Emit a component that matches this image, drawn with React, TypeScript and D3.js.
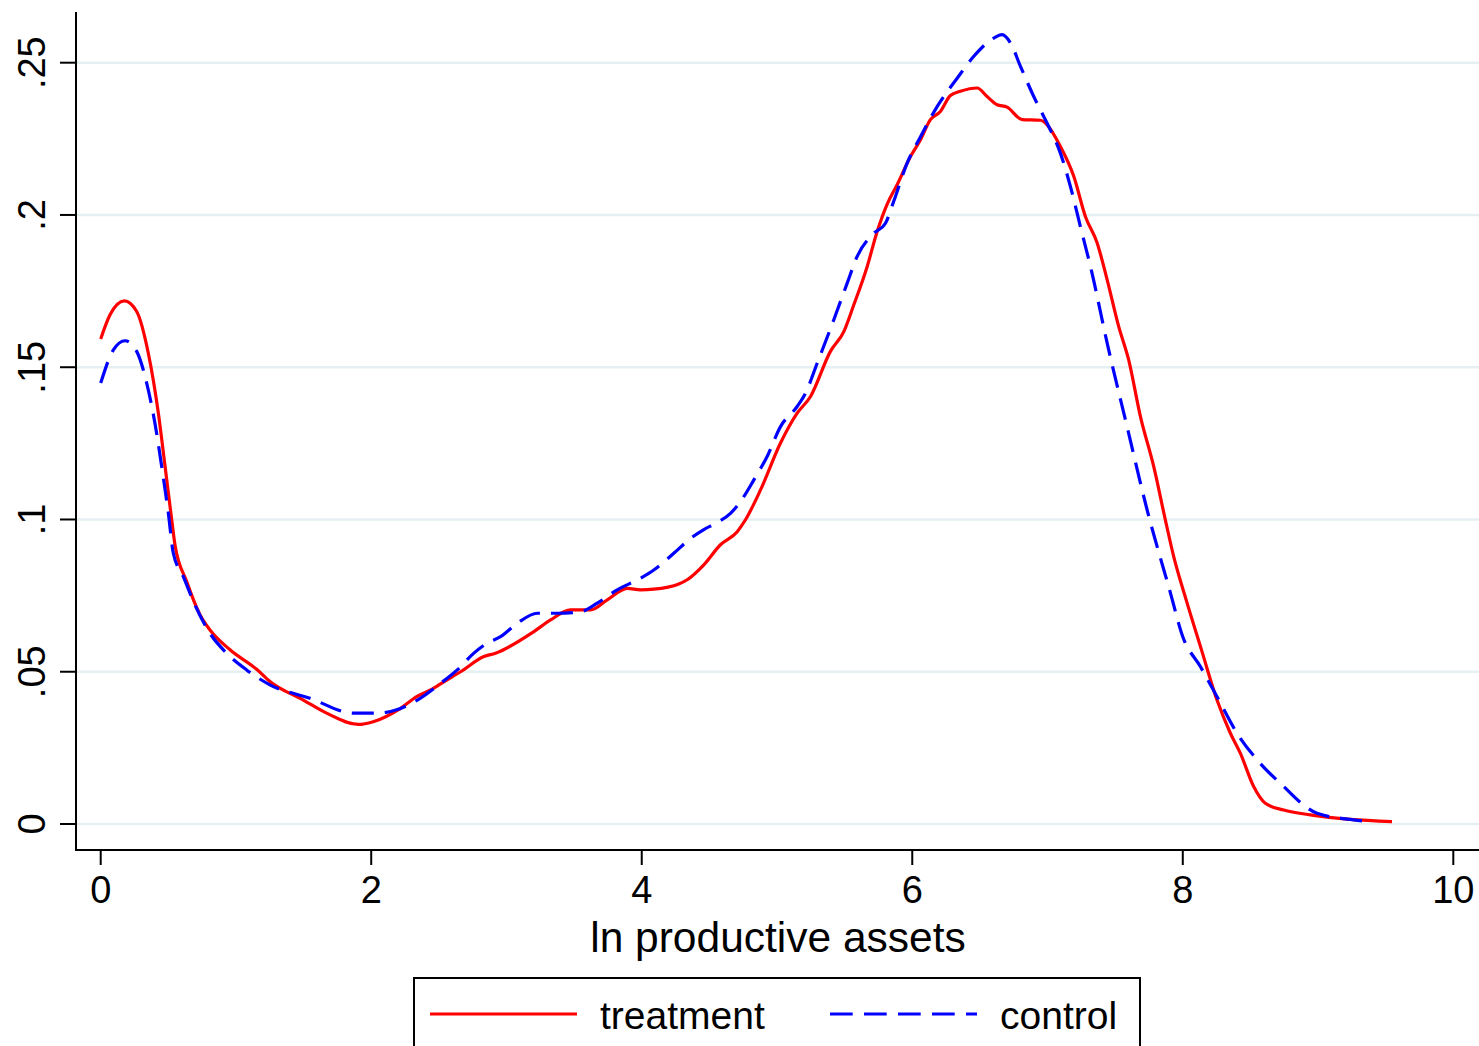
import React from "react";
import * as d3 from "d3";

const W = 1479;
const H = 1046;

// Kernel density: treatment (x = ln productive assets, y = density)
const treatmentX = [0.0, 0.069, 0.175, 0.266, 0.352, 0.426, 0.476, 0.525, 0.549, 0.636, 0.734, 0.808, 0.956, 1.153, 1.251, 1.498, 1.67, 1.905, 2.015, 2.217, 2.336, 2.439, 2.537, 2.661, 2.833, 2.919, 3.203, 3.326, 3.474, 3.622, 3.745, 3.893, 3.991, 4.089, 4.274, 4.336, 4.459, 4.582, 4.706, 4.767, 4.878, 5.026, 5.149, 5.248, 5.395, 5.494, 5.568, 5.667, 5.74, 5.814, 5.888, 5.987, 6.061, 6.134, 6.208, 6.282, 6.356, 6.48, 6.553, 6.627, 6.701, 6.812, 6.948, 6.997, 7.095, 7.194, 7.28, 7.367, 7.441, 7.526, 7.6, 7.687, 7.785, 7.871, 7.933, 8.025, 8.136, 8.253, 8.352, 8.426, 8.524, 8.61, 8.746, 8.943, 9.239, 9.547];
const treatmentY = [0.1593, 0.1672, 0.1718, 0.1683, 0.1546, 0.135, 0.1174, 0.0999, 0.0917, 0.0796, 0.0687, 0.0637, 0.0572, 0.0508, 0.0468, 0.0407, 0.0364, 0.0327, 0.0336, 0.038, 0.0418, 0.044, 0.0467, 0.05, 0.055, 0.0561, 0.0632, 0.067, 0.0703, 0.0703, 0.0736, 0.0774, 0.0769, 0.0771, 0.0788, 0.0802, 0.0851, 0.0917, 0.096, 0.0999, 0.1097, 0.1251, 0.1349, 0.1404, 0.1552, 0.1617, 0.1705, 0.1831, 0.1945, 0.2035, 0.2099, 0.2192, 0.2247, 0.2313, 0.234, 0.2392, 0.2406, 0.2417, 0.2389, 0.2362, 0.2354, 0.2313, 0.2311, 0.2296, 0.2225, 0.2127, 0.1995, 0.1908, 0.1787, 0.1634, 0.1524, 0.1338, 0.1174, 0.0999, 0.0878, 0.0736, 0.0575, 0.0407, 0.0298, 0.0232, 0.0123, 0.0068, 0.0046, 0.003, 0.0015, 0.0008];

// Kernel density: control
const controlX = [0.0, 0.094, 0.18, 0.266, 0.34, 0.401, 0.451, 0.5, 0.537, 0.611, 0.697, 0.808, 0.931, 1.079, 1.251, 1.547, 1.868, 2.04, 2.188, 2.341, 2.513, 2.636, 2.759, 2.858, 2.956, 3.08, 3.228, 3.375, 3.548, 3.671, 3.819, 3.991, 4.089, 4.237, 4.361, 4.459, 4.558, 4.656, 4.73, 4.829, 4.927, 5.026, 5.149, 5.211, 5.297, 5.42, 5.519, 5.593, 5.716, 5.802, 5.863, 5.962, 6.061, 6.184, 6.332, 6.455, 6.603, 6.664, 6.726, 6.8, 6.898, 6.997, 7.095, 7.169, 7.243, 7.329, 7.441, 7.588, 7.736, 7.908, 8.0, 8.13, 8.253, 8.401, 8.573, 8.746, 8.894, 8.993, 9.239, 9.335];
const controlY = [0.1448, 0.1557, 0.1587, 0.1552, 0.1448, 0.1316, 0.1174, 0.1021, 0.0889, 0.0812, 0.0719, 0.0626, 0.0561, 0.0506, 0.0457, 0.0413, 0.0364, 0.0364, 0.0375, 0.0407, 0.0462, 0.0506, 0.0561, 0.0594, 0.0615, 0.0659, 0.0692, 0.0692, 0.0697, 0.0725, 0.0769, 0.0807, 0.0834, 0.0889, 0.0938, 0.0967, 0.099, 0.102, 0.1059, 0.113, 0.1207, 0.1305, 0.1371, 0.1415, 0.1513, 0.1656, 0.1776, 0.1864, 0.194, 0.1973, 0.2045, 0.217, 0.2257, 0.2356, 0.2449, 0.2521, 0.2581, 0.2592, 0.2565, 0.2488, 0.2389, 0.2301, 0.2203, 0.2094, 0.1962, 0.1809, 0.1579, 0.1305, 0.1032, 0.076, 0.0615, 0.0517, 0.0418, 0.0298, 0.0199, 0.0123, 0.0062, 0.0035, 0.0015, 0.001];

const xTicks = [0, 2, 4, 6, 8, 10];
const xTickLabels = ["0", "2", "4", "6", "8", "10"];
const yTicks = [0, 0.05, 0.1, 0.15, 0.2, 0.25];
const yTickLabels = ["0", ".05", ".1", ".15", ".2", ".25"];

const xTitle = "ln productive assets";
const seriesNames = ["treatment", "control"];

const FONT = "'Liberation Sans', Arial, Helvetica, sans-serif";

export default function App() {
  const x = d3.scaleLinear().domain([0, 10]).range([100.7, 1453.3]);
  const y = d3.scaleLinear().domain([0, 0.25]).range([824, 62.7]);

  const axisLeft = 76;
  const axisBottom = 850;
  const axisTop = 12;

  const toPts = (xs: number[], ys: number[]) => xs.map((v, i) => [v, ys[i]] as [number, number]);
  const line = d3
    .line<[number, number]>()
    .x((d) => x(d[0]))
    .y((d) => y(d[1]))
    .curve(d3.curveMonotoneX);

  const tPath = line(toPts(treatmentX, treatmentY)) || "";
  const cPath = line(toPts(controlX, controlY)) || "";

  return (
    <svg
      width={W}
      height={H}
      style={{ position: "absolute", left: 0, top: 0, background: "#fff" }}
      fontFamily={FONT}
    >
      <rect x={0} y={0} width={W} height={H} fill="#ffffff" />
      {/* gridlines */}
      {yTicks.map((t) => (
        <line key={"g" + t} x1={axisLeft} x2={W} y1={y(t)} y2={y(t)} stroke="#e6eff1" strokeWidth={2.4} />
      ))}
      {/* curves */}
      <path d={tPath} fill="none" stroke="#ff0000" strokeWidth={3.2} strokeLinejoin="round" />
      <path d={cPath} fill="none" stroke="#0000ff" strokeWidth={3.2} strokeDasharray="22 11" />
      {/* y axis */}
      <line x1={axisLeft} x2={axisLeft} y1={axisTop} y2={axisBottom + 1} stroke="#000" strokeWidth={2} />
      {yTicks.map((t, i) => (
        <g key={"yt" + t}>
          <line x1={axisLeft - 16} x2={axisLeft} y1={y(t)} y2={y(t)} stroke="#000" strokeWidth={2} />
          <text
            transform={`translate(45,${y(t)}) rotate(-90)`}
            textAnchor="middle"
            fontSize={38}
            fill="#000"
          >
            {yTickLabels[i]}
          </text>
        </g>
      ))}
      {/* x axis */}
      <line x1={axisLeft - 1} x2={W} y1={axisBottom} y2={axisBottom} stroke="#000" strokeWidth={2} />
      {xTicks.map((t, i) => (
        <g key={"xt" + t}>
          <line x1={x(t)} x2={x(t)} y1={axisBottom} y2={axisBottom + 15} stroke="#000" strokeWidth={2} />
          <text x={x(t)} y={903} textAnchor="middle" fontSize={38} fill="#000">
            {xTickLabels[i]}
          </text>
        </g>
      ))}
      <text x={778} y={952} textAnchor="middle" fontSize={42.5} fill="#000">
        {xTitle}
      </text>
      {/* legend */}
      <rect x={414} y={978} width={726} height={120} fill="#fff" stroke="#000" strokeWidth={2} />
      <line x1={430} x2={577} y1={1014} y2={1014} stroke="#ff0000" strokeWidth={3.2} />
      <text x={600} y={1029} fontSize={39} fill="#000">
        {seriesNames[0]}
      </text>
      <line x1={830} x2={977} y1={1014} y2={1014} stroke="#0000ff" strokeWidth={3.2} strokeDasharray="22.7 11.3" />
      <text x={1000} y={1029} fontSize={39} fill="#000">
        {seriesNames[1]}
      </text>
    </svg>
  );
}
